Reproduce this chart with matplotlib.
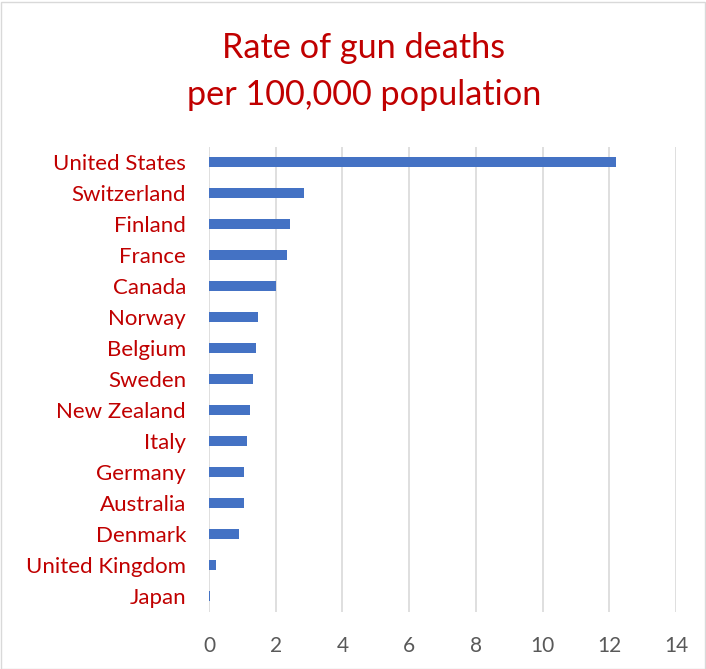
import matplotlib
matplotlib.use("Agg")
import matplotlib.pyplot as plt
from matplotlib.patches import Rectangle

countries = ["United States", "Switzerland", "Finland", "France", "Canada", "Norway",
             "Belgium", "Sweden", "New Zealand", "Italy", "Germany", "Australia",
             "Denmark", "United Kingdom", "Japan"]
rates = [12.21, 2.84, 2.42, 2.33, 2.00, 1.48, 1.40, 1.31, 1.24, 1.13, 1.05, 1.04, 0.91, 0.20, 0.02]
xticks = [0, 2, 4, 6, 8, 10, 12, 14]
title_lines = ["Rate of gun deaths", "per 100,000 population"]

plt.rcParams['font.family'] = ['Lato', 'DejaVu Sans']

fig = plt.figure(figsize=(7.06, 6.69), dpi=100)
ax = fig.add_axes([209/706, 1-611.5/669, (676-209)/706, (611.5-146.5)/669])

y = list(range(len(countries)))
ax.barh(y, rates, height=0.35, color="#4472C4", zorder=3)
ax.set_ylim(len(countries)-0.5, -0.5)
ax.set_xlim(0, 14)
ax.set_xticks(xticks)
ax.set_xticklabels([str(t) for t in xticks])
ax.set_yticks(y)
ax.set_yticklabels(countries)
for s in ax.spines.values():
    s.set_visible(False)
ax.grid(axis='x', color="#D9D9D9", linewidth=1.2, zorder=0)
ax.tick_params(axis='y', length=0, pad=16.5, labelsize=16, labelcolor="#C00000")
ax.tick_params(axis='x', length=0, pad=18, labelsize=15, labelcolor="#595959")

for line, yb in zip(title_lines, [58.3, 105]):
    fig.text(364/706, 1-yb/669, line, ha='center', va='baseline', fontsize=24.7, color="#C00000")

fig.patches.append(Rectangle((0.5/706, 0.5/669), 1-2/706, 1-2/669, transform=fig.transFigure,
                             fill=False, edgecolor="#D9D9D9", linewidth=1))

fig.savefig("out.png", dpi=100)
